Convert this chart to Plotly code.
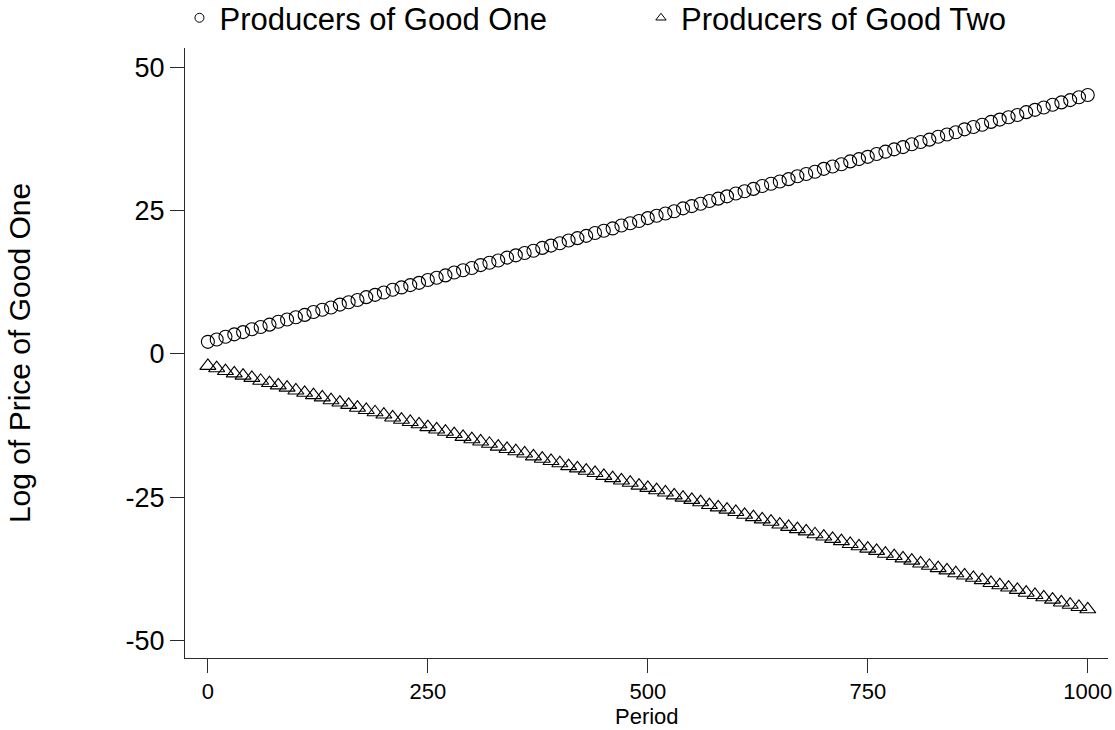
import plotly.graph_objects as go

# Period index, sampled every 10 periods
periods = list(range(0, 1001, 10))

# Log price of good one as seen by producers of good one (circles)
producers_one = [
    2.1, 2.5, 3.0, 3.4, 3.8, 4.3, 4.7, 5.1, 5.6, 6.0,
    6.4, 6.8, 7.3, 7.7, 8.1, 8.6, 9.0, 9.4, 9.9, 10.3,
    10.7, 11.2, 11.6, 12.0, 12.4, 12.9, 13.3, 13.7, 14.2, 14.6,
    15.0, 15.5, 15.9, 16.3, 16.8, 17.2, 17.6, 18.0, 18.5, 18.9,
    19.3, 19.8, 20.2, 20.6, 21.1, 21.5, 21.9, 22.4, 22.8, 23.2,
    23.7, 24.1, 24.5, 24.9, 25.4, 25.8, 26.2, 26.7, 27.1, 27.5,
    28.0, 28.4, 28.8, 29.3, 29.7, 30.1, 30.5, 31.0, 31.4, 31.8,
    32.3, 32.7, 33.1, 33.6, 34.0, 34.4, 34.9, 35.3, 35.7, 36.1,
    36.6, 37.0, 37.4, 37.9, 38.3, 38.7, 39.2, 39.6, 40.0, 40.5,
    40.9, 41.3, 41.7, 42.2, 42.6, 43.0, 43.5, 43.9, 44.3, 44.8,
    45.2,
]

# Log price of good one as seen by producers of good two (triangles)
producers_two = [
    -2.1, -2.5, -3.0, -3.4, -3.8, -4.2, -4.7, -5.1, -5.5, -5.9,
    -6.4, -6.8, -7.2, -7.6, -8.1, -8.5, -8.9, -9.4, -9.8, -10.2,
    -10.6, -11.1, -11.5, -11.9, -12.3, -12.8, -13.2, -13.6, -14.0, -14.5,
    -14.9, -15.3, -15.7, -16.2, -16.6, -17.0, -17.4, -17.9, -18.3, -18.7,
    -19.1, -19.6, -20.0, -20.4, -20.8, -21.3, -21.7, -22.1, -22.5, -23.0,
    -23.4, -23.8, -24.2, -24.7, -25.1, -25.5, -25.9, -26.4, -26.8, -27.2,
    -27.6, -28.1, -28.5, -28.9, -29.3, -29.8, -30.2, -30.6, -31.0, -31.5,
    -31.9, -32.3, -32.7, -33.2, -33.6, -34.0, -34.4, -34.9, -35.3, -35.7,
    -36.1, -36.6, -37.0, -37.4, -37.8, -38.3, -38.7, -39.1, -39.5, -40.0,
    -40.4, -40.8, -41.2, -41.7, -42.1, -42.5, -42.9, -43.4, -43.8, -44.2,
    -44.6,
]

x_ticks = [0, 250, 500, 750, 1000]
x_tick_labels = ["0", "250", "500", "750", "1000"]
y_ticks = [-50, -25, 0, 25, 50]
y_tick_labels = ["-50", "-25", "0", "25", "50"]

series_one_name = "Producers of Good One"
series_two_name = "Producers of Good Two"
x_title = "Period"
y_title = "Log of Price of Good One"

FONT = "Liberation Sans, Arial, sans-serif"
INK = "#000000"
AXIS = "#2a2a2a"

fig = go.Figure()

fig.add_trace(go.Scatter(
    x=periods, y=producers_one, mode="markers", showlegend=False,
    marker=dict(symbol="circle-open", size=13, color=INK, line=dict(width=1.1, color=INK)),
))
fig.add_trace(go.Scatter(
    x=periods, y=producers_two, mode="markers", showlegend=False,
    marker=dict(symbol="triangle-up-open", size=14, color=INK, line=dict(width=1.1, color=INK)),
))

# Small legend keys, one legend box per series
fig.add_trace(go.Scatter(
    x=[None], y=[None], mode="markers", name=series_one_name, legend="legend",
    marker=dict(symbol="circle-open", size=9, color=INK, line=dict(width=1, color=INK)),
))
fig.add_trace(go.Scatter(
    x=[None], y=[None], mode="markers", name=series_two_name, legend="legend2",
    marker=dict(symbol="triangle-up-open", size=9, color=INK, line=dict(width=1, color=INK)),
))

legend_style = dict(
    orientation="h", xanchor="left", yanchor="middle", y=1.049,
    font=dict(size=31, color=INK), bgcolor="rgba(0,0,0,0)", borderwidth=0,
    itemsizing="trace",
)

fig.update_layout(
    width=1115, height=730,
    margin=dict(l=185, r=7, t=48, b=72, autoexpand=False),
    paper_bgcolor="white", plot_bgcolor="white",
    font=dict(family=FONT, size=24, color=INK),
    legend=dict(x=-0.006, **legend_style),
    legend2=dict(x=0.494, **legend_style),
    xaxis=dict(
        range=[-26, 1023], tickvals=x_ticks, ticktext=x_tick_labels,
        ticks="outside", ticklen=14, tickcolor=AXIS, tickwidth=1,
        showline=True, linecolor=AXIS, linewidth=1,
        showgrid=False, zeroline=False, tickfont=dict(size=22),
        ticklabeloverflow="allow",
    ),
    yaxis=dict(
        range=[-53.1, 53.4], tickvals=y_ticks, ticktext=y_tick_labels,
        ticks="outside", ticklen=14, tickcolor=AXIS, tickwidth=1,
        showline=True, linecolor=AXIS, linewidth=1,
        showgrid=False, zeroline=False, tickfont=dict(size=27),
        title=dict(text=y_title, font=dict(size=30), standoff=86),
    ),
    annotations=[dict(
        text=x_title, xref="x domain", yref="paper", x=0.5, y=-0.0959,
        xanchor="center", yanchor="middle", showarrow=False, borderpad=0,
        font=dict(size=22, color=INK),
    )],
)

fig.write_html("out.html")
